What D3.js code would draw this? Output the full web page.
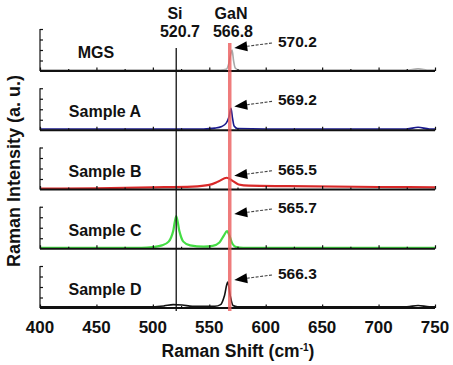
<!DOCTYPE html>
<html>
<head>
<meta charset="utf-8">
<script src="https://cdn.jsdelivr.net/npm/d3@7"></script>
<style>
  body { margin: 0; background: #fff; }
  text { font-family: "Liberation Sans", Arial, sans-serif; font-weight: bold; fill: #111; }
</style>
</head>
<body>
<div id="output"></div>
<script>
// panels, top to bottom
const samples = ["MGS", "Sample A", "Sample B", "Sample C", "Sample D"];
const lineColors = ["#a8a8a8", "#1a1a8c", "#d82828", "#44dd44", "#111111"];
const peakLabels = ["570.2", "569.2", "565.5", "565.7", "566.3"];
const xTicks = [400, 450, 500, 550, 600, 650, 700, 750];

// [Raman shift, intensity (fraction of panel height)]
const mgs = [[400,0.02],[500,0.02],[560,0.02],[565,0.04],[567.5,0.2],[569,0.4],[570.2,0.5],[571.5,0.25],[573,0.07],[576,0.02],[650,0.02],[725,0.02],[735,0.05],[745,0.02],[750,0.02]];
const sampleA = [[400,0.03],[500,0.03],[545,0.03],[555,0.05],[561,0.09],[565,0.17],[567.5,0.32],[569.2,0.52],[570.5,0.3],[572,0.1],[575,0.04],[600,0.03],[725,0.03],[735,0.07],[745,0.03],[750,0.03]];
const sampleB = [[400,0.02],[450,0.03],[500,0.05],[535,0.07],[550,0.11],[558,0.19],[565.5,0.28],[571,0.2],[576,0.12],[585,0.09],[620,0.08],[700,0.06],[750,0.05]];
const sampleC = [[400,0.02],[490,0.02],[500,0.04],[508,0.08],[514,0.17],[518,0.42],[520.7,0.78],[523.5,0.42],[527,0.17],[533,0.08],[545,0.05],[553,0.07],[559,0.15],[563,0.32],[565.7,0.42],[568,0.3],[570.5,0.12],[574,0.04],[580,0.02],[750,0.02]];
const sampleD = [[400,0.03],[500,0.03],[510,0.05],[518,0.08],[526,0.07],[535,0.04],[555,0.04],[560,0.08],[563.5,0.3],[566.3,0.62],[568.5,0.3],[571,0.06],[575,0.03],[725,0.03],[735,0.06],[745,0.03],[750,0.03]];
const spectra = [mgs, sampleA, sampleB, sampleC, sampleD];

const siShift = 520.7;
const ganShift = 566.8;

function draw() {
    document.getElementById('output').innerHTML = '';
    const w = 453, h = 365;
    const svg = d3.select("#output").append("svg").attr("width", w).attr("height", h);

    const x = d3.scaleLinear().domain([400, 750]).range([40, 435]);
    const base = d3.scalePoint().domain(samples).range([71, 308]);
    const panelH = 42;
    const yv = d3.scaleLinear().domain([0, 1]).range([0, -panelH]);

    const notes = [];

    samples.forEach((name, i) => {
        const b = base(name);
        const g = svg.append("g").attr("transform", `translate(0,${b})`);

        // spectrum
        const line = d3.line()
            .x(d => x(d[0]))
            .y(d => yv(d[1]))
            .curve(d3.curveMonotoneX);
        g.append("path")
            .datum(spectra[i])
            .attr("d", line)
            .style("fill", "none")
            .style("stroke", lineColors[i])
            .style("stroke-width", i === 2 || i === 3 ? 2.2 : 1.6);

        // bottom axis of this panel
        const xAx = d3.axisTop(x)
            .tickValues(d3.range(400, 751, 25))
            .tickSize(3)
            .tickFormat("");
        const ax = g.append("g").call(xAx);
        ax.select(".domain").attr("d", `M${x(400)},0H${x(750)}`)
            .style("stroke", "#111").style("stroke-width", 1.8);
        ax.selectAll(".tick line").style("stroke", "#111").style("stroke-width", 1.2)
            .attr("y2", d => d % 50 === 0 ? -3.5 : -2);

        // short left axis
        const yAx = d3.axisRight(yv)
            .tickValues([0.25, 0.5, 0.75, 1])
            .tickSize(3)
            .tickFormat("");
        const ay = g.append("g").attr("transform", `translate(${x(400)},0)`).call(yAx);
        ay.select(".domain").attr("d", `M0,${yv(1)}V0`).style("stroke", "#111").style("stroke-width", 1.2);
        ay.selectAll(".tick line").style("stroke", "#111").style("stroke-width", 1.2);

        // panel label
        g.append("text")
            .attr("x", name === "MGS" ? 96 : 105)
            .attr("y", -13)
            .style("font-size", "16px")
            .style("text-anchor", "middle")
            .text(name);

        const py = yv(d3.max(spectra[i], d => d[1]));
        notes.push({ y: b + py - 2, label: peakLabels[i] });
    });

    const yTop = base(samples[0]) - panelH;
    const yBot = base(samples[samples.length - 1]) + 3;

    // Si reference line
    svg.append("line")
        .attr("x1", x(siShift)).attr("x2", x(siShift))
        .attr("y1", yTop + 19).attr("y2", yBot)
        .style("stroke", "#111").style("stroke-width", 1.3);

    // GaN reference line
    svg.append("line")
        .attr("x1", x(ganShift) + 1.5).attr("x2", x(ganShift) + 1.5)
        .attr("y1", yTop + 14).attr("y2", yBot)
        .style("stroke", "#ec5c5c").style("stroke-width", 3.5).style("opacity", 0.8);

    // peak annotations: dashed arrow + value
    const tipX = x(ganShift) + 6;
    const tailX = 272;
    for (let n of notes) {
        const ty = n.y - 5;
        const ang = Math.atan2(ty - n.y, tailX - tipX);
        const len = 13, half = 5;
        const bx = tipX + len * Math.cos(ang), by = n.y + len * Math.sin(ang);
        const px = -Math.sin(ang) * half, pyy = Math.cos(ang) * half;
        svg.append("line")
            .attr("x1", tailX).attr("y1", ty)
            .attr("x2", bx).attr("y2", by)
            .style("stroke", "#444")
            .style("stroke-width", 1.1)
            .style("stroke-dasharray", "3,1.5");
        svg.append("path")
            .attr("d", `M${tipX},${n.y}L${bx + px},${by + pyy}L${bx - px},${by - pyy}Z`)
            .style("fill", "#000");
        svg.append("text")
            .attr("x", 278)
            .attr("y", n.y - 1)
            .style("font-size", "15.5px")
            .text(n.label);
    }

    // top labels
    svg.append("text").attr("x", 175).attr("y", 19)
        .style("font-size", "16px").style("text-anchor", "middle").text("Si");
    svg.append("text").attr("x", 180).attr("y", 37)
        .style("font-size", "16px").style("text-anchor", "middle").text("520.7");
    svg.append("text").attr("x", 231).attr("y", 19)
        .style("font-size", "16px").style("text-anchor", "middle").text("GaN");
    svg.append("text").attr("x", 233).attr("y", 37)
        .style("font-size", "16px").style("text-anchor", "middle").text("566.8");

    // x tick labels
    svg.append("g").selectAll("text")
        .data(xTicks)
        .join("text")
        .attr("x", d => x(d))
        .attr("y", 333)
        .style("font-size", "17px")
        .style("text-anchor", "middle")
        .text(d => d);

    // axis titles
    const xt = svg.append("text")
        .attr("x", 238).attr("y", 357)
        .style("font-size", "17.5px")
        .style("text-anchor", "middle");
    xt.append("tspan").text("Raman Shift (cm");
    xt.append("tspan").attr("dy", -6).style("font-size", "10px").text("-1");
    xt.append("tspan").attr("dy", 6).text(")");

    svg.append("text")
        .attr("transform", "translate(20,171) rotate(-90)")
        .style("font-size", "18px")
        .style("text-anchor", "middle")
        .text("Raman Intensity (a. u.)");
}

draw();
</script>
</body>
</html>
